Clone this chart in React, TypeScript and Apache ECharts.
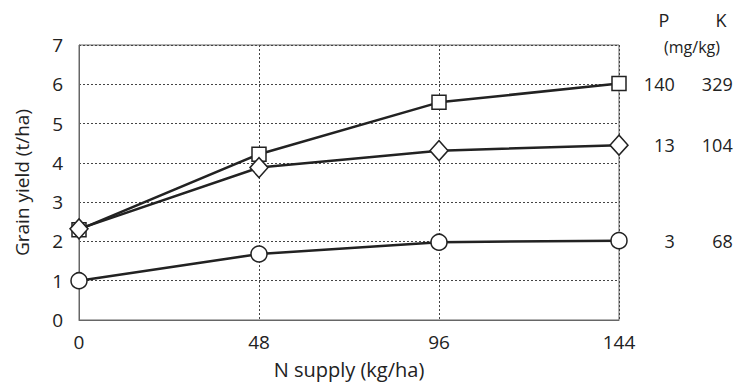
import React, { useEffect, useRef } from "react";
import * as echarts from "echarts";

const nSupply = [0, 48, 96, 144];
const highPK = [2.3, 4.22, 5.54, 6.02];
const midPK = [2.32, 3.88, 4.31, 4.45];
const lowPK = [1.0, 1.68, 1.98, 2.02];
const pValues = ["140", "13", "3"];
const kValues = ["329", "104", "68"];
const yTicks = [0, 1, 2, 3, 4, 5, 6, 7];

const FONT = "'Open Sans', Lato, sans-serif";
const INK = "#222";

function makeSeries(name: string, ys: number[], symbol: string, size: any, idx: number, dist: number) {
  const last = ys.length - 1;
  return {
    name,
    type: "line",
    symbol,
    symbolSize: size,
    showAllSymbol: true,
    lineStyle: { color: INK, width: 2.5 },
    itemStyle: { color: "#fff", borderColor: INK, borderWidth: 1.5 },
    emphasis: { disabled: true },
    data: nSupply.map((x, i) => ({
      value: [x, ys[i]],
      label:
        i === last
          ? {
              show: true,
              position: "right",
              distance: dist,
              formatter: `{p|${pValues[idx]}}{k|${kValues[idx]}}`,
              rich: {
                p: { width: 45, align: "right", fontSize: 18, color: INK, fontFamily: FONT },
                k: { width: 58, align: "right", fontSize: 18, color: INK, fontFamily: FONT },
              },
            }
          : { show: false },
    })),
  };
}

export default function App() {
  const ref = useRef<HTMLDivElement>(null);
  useEffect(() => {
    if (!ref.current) return;
    const chart = echarts.init(ref.current, undefined, { renderer: "svg" });
    chart.setOption({
      animation: false,
      backgroundColor: "#fff",
      textStyle: { fontFamily: FONT },
      grid: {
        left: 79,
        right: 117,
        top: 45,
        bottom: 65,
        show: true,
        borderColor: "#666",
        borderWidth: 1,
      },
      graphic: [
        { type: "text", x: 664, y: 20, style: { text: "P", fontSize: 18, fill: INK, fontFamily: FONT, align: "center", verticalAlign: "middle" } },
        { type: "text", x: 721, y: 20, style: { text: "K", fontSize: 18, fill: INK, fontFamily: FONT, align: "center", verticalAlign: "middle" } },
        { type: "text", x: 692, y: 47, style: { text: "(mg/kg)", fontSize: 16, fill: INK, fontFamily: FONT, align: "center", verticalAlign: "middle" } },
      ],
      xAxis: {
        type: "value",
        min: 0,
        max: 144,
        interval: 48,
        name: "N supply (kg/ha)",
        nameLocation: "middle",
        nameGap: 39,
        nameTextStyle: { fontSize: 20, color: INK, fontFamily: FONT },
        axisLine: { show: true, lineStyle: { color: "#666", width: 1 } },
        axisTick: { show: false },
        axisLabel: { fontSize: 19, color: INK, margin: 12, fontFamily: FONT },
        splitLine: { show: true, lineStyle: { color: "#444", type: [2, 2], width: 1 } },
      },
      yAxis: {
        type: "value",
        min: yTicks[0],
        max: yTicks[yTicks.length - 1],
        interval: 1,
        name: "Grain yield (t/ha)",
        nameLocation: "middle",
        nameGap: 48,
        nameTextStyle: { fontSize: 19, color: INK, fontFamily: FONT },
        axisLine: { show: true, lineStyle: { color: "#666", width: 1 } },
        axisTick: { show: false },
        axisLabel: { fontSize: 19, color: INK, margin: 16, fontFamily: FONT },
        splitLine: { show: true, lineStyle: { color: "#444", type: [2, 2], width: 1 } },
      },
      series: [
        makeSeries("low", lowPK, "circle", 16, 2, 2),
        makeSeries("high", highPK, "rect", 14, 0, 3),
        makeSeries("mid", midPK, "diamond", [18, 20], 1, 1),
      ],
    });
    return () => chart.dispose();
  }, []);
  return <div ref={ref} style={{ position: "fixed", left: 0, top: 0, width: 736, height: 385 }} />;
}
